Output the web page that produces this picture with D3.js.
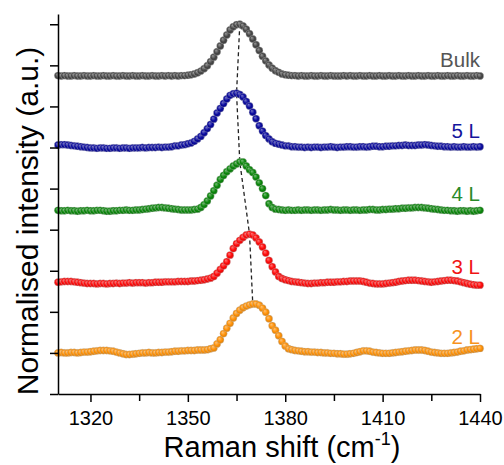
<!DOCTYPE html>
<html>
<head>
<meta charset="utf-8">
<script src="https://cdn.jsdelivr.net/npm/d3@7"></script>
<style>
	body { margin: 0; background: #fff; }
	svg text { font-family: "Liberation Sans", Arial, sans-serif; }
	.axis path, .axis line { stroke: #000; stroke-width: 1.5; }
	.axis text { font-size: 20px; fill: #000; }
</style>
</head>
<body>
<div class="raman-chart"></div>
<script>

// spectra sampled every 1 cm-1 from 1310 to 1440, intensity above each trace's own baseline
const startShift = 1310;
const endShift = 1440;

const bulk = [
	0.01,0.00,0.01,0.00,0.00,0.01,0.00,0.00,0.01,0.00,
	0.00,0.01,0.00,0.00,0.01,0.00,0.00,0.01,0.00,0.00,
	0.01,0.00,0.00,0.01,0.00,0.00,0.01,0.00,0.00,0.01,
	0.00,0.00,0.01,0.00,0.01,0.00,0.01,0.00,0.01,0.01,
	0.02,0.03,0.05,0.08,0.12,0.18,0.25,0.35,0.46,0.59,
	0.73,0.87,1.00,1.12,1.20,1.25,1.26,1.22,1.14,1.03,
	0.90,0.76,0.62,0.48,0.37,0.27,0.19,0.13,0.09,0.05,
	0.03,0.02,0.01,0.01,0.00,0.01,0.00,0.00,0.01,0.00,
	0.00,0.01,0.00,0.00,0.01,0.00,0.00,0.00,0.01,0.00,
	0.01,0.00,0.00,0.01,0.00,0.00,0.01,0.00,0.00,0.01,
	0.00,0.00,0.01,0.00,0.00,0.01,0.00,0.00,0.01,0.00,
	0.00,0.01,0.00,0.00,0.01,0.00,0.00,0.01,0.00,0.00,
	0.01,0.00,0.00,0.01,0.00,0.00,0.01,0.00,0.00,0.01,
	0.00
];

const layers5 = [
	0.05,0.06,0.06,0.05,0.04,0.03,0.02,0.01,0.00,-0.01,
	-0.02,-0.02,-0.03,-0.02,-0.02,-0.03,-0.03,-0.02,-0.02,-0.03,
	-0.02,-0.02,-0.03,-0.02,-0.02,-0.02,-0.01,-0.02,-0.01,-0.01,
	-0.01,0.00,-0.01,0.00,0.00,0.01,0.03,0.03,0.05,0.06,
	0.08,0.10,0.14,0.20,0.26,0.35,0.45,0.55,0.68,0.83,
	0.94,1.06,1.17,1.26,1.30,1.31,1.28,1.22,1.11,1.00,
	0.85,0.69,0.52,0.39,0.28,0.20,0.13,0.09,0.07,0.05,
	0.03,0.03,0.01,0.01,0.00,0.00,-0.01,0.00,-0.01,0.00,
	0.00,-0.01,0.00,0.00,0.01,0.00,-0.01,0.00,0.00,0.01,
	0.01,0.00,0.00,0.01,0.01,0.00,0.01,0.02,0.02,0.01,
	0.01,0.02,0.02,0.03,0.03,0.04,0.04,0.05,0.04,0.04,
	0.04,0.05,0.05,0.06,0.05,0.04,0.03,0.02,0.02,0.01,
	0.01,0.00,0.01,0.00,0.00,0.01,0.00,0.00,0.01,0.00,
	0.01
];

const layers4 = [
	-0.01,-0.02,-0.02,-0.01,-0.02,-0.02,-0.03,-0.02,-0.02,-0.01,
	-0.02,-0.02,-0.01,-0.01,-0.02,-0.03,-0.03,-0.02,-0.02,-0.01,
	-0.01,0.00,-0.01,-0.01,0.00,0.00,0.01,0.02,0.03,0.04,
	0.05,0.06,0.06,0.05,0.04,0.03,0.02,0.01,0.00,0.00,
	0.00,0.00,0.01,0.02,0.06,0.13,0.22,0.34,0.47,0.60,
	0.74,0.84,0.93,1.00,1.07,1.12,1.17,1.17,1.07,0.98,
	0.91,0.80,0.66,0.52,0.35,0.15,0.06,0.02,0.01,0.00,
	-0.01,0.00,-0.01,-0.01,0.00,-0.01,0.00,0.00,-0.01,0.00,
	0.00,-0.01,0.00,0.00,0.01,0.00,0.00,-0.01,0.00,0.00,
	-0.01,0.00,0.00,-0.01,0.00,0.00,0.01,0.01,0.00,0.00,
	0.01,0.01,0.02,0.02,0.03,0.03,0.04,0.04,0.05,0.05,
	0.06,0.06,0.06,0.05,0.04,0.03,0.02,0.01,0.00,-0.01,
	-0.01,-0.02,-0.02,-0.03,-0.02,-0.02,-0.03,-0.02,-0.03,-0.02,
	-0.01
];

const layers3 = [
	0.02,0.03,0.04,0.04,0.04,0.03,0.02,0.01,0.00,-0.01,
	-0.01,-0.01,-0.02,-0.01,-0.01,-0.02,-0.01,-0.01,0.00,-0.01,
	0.00,0.00,0.01,0.00,0.01,0.01,0.01,0.00,0.01,0.01,
	0.02,0.02,0.02,0.03,0.03,0.03,0.03,0.04,0.04,0.04,
	0.04,0.05,0.05,0.06,0.07,0.08,0.10,0.12,0.16,0.24,
	0.33,0.42,0.52,0.68,0.84,0.96,1.04,1.11,1.17,1.19,
	1.17,1.10,1.00,0.88,0.73,0.55,0.40,0.27,0.16,0.11,
	0.08,0.06,0.04,0.03,0.02,0.01,0.00,-0.01,-0.01,0.00,
	0.00,0.01,0.01,0.02,0.02,0.02,0.03,0.03,0.04,0.04,
	0.05,0.05,0.05,0.05,0.04,0.02,0.00,-0.01,-0.02,-0.02,
	-0.02,-0.01,0.00,0.01,0.02,0.04,0.05,0.06,0.07,0.07,
	0.07,0.06,0.05,0.04,0.03,0.02,0.03,0.04,0.05,0.06,
	0.07,0.07,0.06,0.05,0.03,0.01,-0.01,-0.03,-0.04,-0.05,
	-0.05
];

const layers2 = [
	0.00,0.01,0.00,0.00,0.01,0.01,0.00,0.01,0.02,0.02,
	0.03,0.04,0.05,0.06,0.06,0.06,0.05,0.04,0.02,0.00,
	-0.02,-0.04,-0.04,-0.03,-0.02,-0.01,0.00,0.00,0.01,0.00,
	0.00,0.01,0.01,0.02,0.02,0.03,0.04,0.04,0.05,0.05,
	0.06,0.06,0.06,0.07,0.07,0.07,0.08,0.10,0.12,0.22,
	0.32,0.47,0.60,0.72,0.85,0.96,1.04,1.10,1.14,1.17,
	1.19,1.19,1.16,1.09,0.99,0.83,0.66,0.55,0.42,0.28,
	0.17,0.10,0.08,0.06,0.05,0.04,0.03,0.03,0.02,0.02,
	0.01,0.01,0.00,0.00,-0.01,-0.01,-0.02,-0.02,-0.03,-0.03,
	-0.02,-0.01,0.01,0.03,0.05,0.05,0.04,0.02,0.01,0.00,
	-0.01,-0.01,-0.01,0.00,0.01,0.02,0.03,0.04,0.05,0.06,
	0.07,0.07,0.07,0.06,0.04,0.02,0.01,0.00,-0.01,-0.01,
	-0.01,0.00,0.01,0.02,0.04,0.05,0.07,0.08,0.09,0.10,
	0.11
];

const names = ["Bulk", "5 L", "4 L", "3 L", "2 L"];
const offsets = [7.74, 6.01, 4.48, 2.70, 1.00];
const markerColors = ["#474747", "#0a0a9e", "#0b870b", "#ff0a0a", "#ff9208"];
const labelColors = ["#555555", "#15159c", "#2a8a2a", "#f01414", "#f7931e"];

const xTicks = [1320, 1350, 1380, 1410, 1440];
const xMinorTicks = [1335, 1365, 1395, 1425];
const yTicks = [0, 1, 2, 3, 4, 5, 6, 7, 8, 9];

const width = 504;
const height = 465;
const margin = { top: 14, right: 24, bottom: 71, left: 58 };

const shifts = d3.range(startShift, endShift + 1);
const spectra = [bulk, layers5, layers4, layers3, layers2].map((values, i) => ({
	name: names[i],
	offset: offsets[i],
	color: markerColors[i],
	labelColor: labelColors[i],
	points: values.map((v, j) => ({ shift: shifts[j], value: v + offsets[i] }))
}));

// scales
const x = d3.scaleLinear().domain([1310, 1440]).range([margin.left, width - margin.right]);
const y = d3.scaleLinear().domain([0, 9.25]).range([height - margin.bottom, margin.top]);

const svg = d3.select(".raman-chart")
	.append("svg")
		.attr("width", width)
		.attr("height", height);

// bead-like markers
const defs = svg.append("defs");
spectra.forEach((s, i) => {
	const grad = defs.append("radialGradient")
		.attr("id", `bead-${i}`)
		.attr("fx", "35%")
		.attr("fy", "30%");
	grad.append("stop").attr("offset", "0%").attr("stop-color", d3.interpolateRgb(s.color, "#fff")(0.45));
	grad.append("stop").attr("offset", "60%").attr("stop-color", s.color);
	grad.append("stop").attr("offset", "100%").attr("stop-color", d3.color(s.color).darker(0.5));
});

// dashed guide through the peak maxima
const peaks = spectra.map((s) => d3.greatest(s.points, (p) => p.value));
svg.append("path")
	.datum(peaks)
	.attr("fill", "none")
	.attr("stroke", "#222")
	.attr("stroke-width", 1.3)
	.attr("stroke-dasharray", "4,3")
	.attr("d", d3.line().x((d) => x(d.shift)).y((d) => y(d.value)));

// spectra
const series = svg.selectAll(".spectrum")
	.data(spectra).enter()
	.append("g")
		.attr("class", "spectrum");

series.selectAll("circle")
	.data((d, i) => d.points.map((p) => Object.assign({ idx: i }, p)))
	.enter()
	.append("circle")
		.attr("cx", (d) => x(d.shift))
		.attr("cy", (d) => y(d.value))
		.attr("r", 3.7)
		.attr("fill", (d) => `url(#bead-${d.idx})`)
		.attr("stroke", "rgba(210,210,210,0.7)")
		.attr("stroke-width", 0.5);

series.append("text")
	.attr("x", x(endShift))
	.attr("y", (d) => y(d.offset) - 9)
	.attr("text-anchor", "end")
	.attr("font-size", "20.5px")
	.attr("fill", (d) => d.labelColor)
	.text((d) => d.name);

// axes
svg.append("g")
	.attr("class", "axis x-axis")
	.attr("transform", `translate(0, ${y(0)})`)
	.call(d3.axisBottom(x).tickValues(xTicks).tickSize(8).tickSizeOuter(0).tickPadding(9).tickFormat(d3.format("d")));

svg.append("g")
	.attr("class", "axis x-minor")
	.attr("transform", `translate(0, ${y(0)})`)
	.call(d3.axisBottom(x).tickValues(xMinorTicks).tickSize(7).tickFormat(""))
	.select(".domain").remove();

svg.append("g")
	.attr("class", "axis y-axis")
	.attr("transform", `translate(${x(1310)}, 0)`)
	.call(d3.axisLeft(y).tickValues(yTicks).tickSize(8).tickSizeOuter(0).tickFormat(""));

// titles
const xTitle = svg.append("text")
	.attr("x", (x(1310) + x(1440)) / 2 + 13)
	.attr("y", y(0) + 63)
	.attr("text-anchor", "middle")
	.attr("font-size", "29px")
	.attr("fill", "#000");
xTitle.append("tspan").text("Raman shift (cm");
xTitle.append("tspan").attr("font-size", "18px").attr("dy", -12).text("-1");
xTitle.append("tspan").attr("dy", 12).text(")");

svg.append("text")
	.attr("transform", `translate(38, ${(y(0) + y(9.25)) / 2 + 17}) rotate(-90)`)
	.attr("text-anchor", "middle")
	.attr("font-size", "30px")
	.attr("fill", "#000")
	.text("Normalised intensity (a.u.)");

</script>
</body>
</html>
